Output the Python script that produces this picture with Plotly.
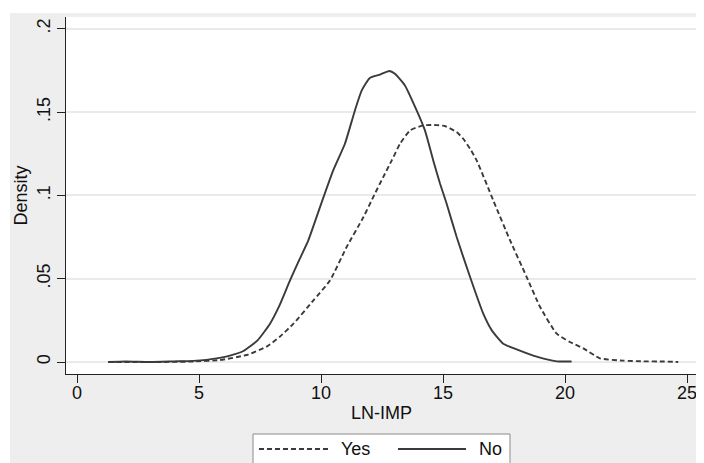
import plotly.graph_objects as go

# ---- data ----
no_x = [1.28, 2.0, 3.0, 4.0, 4.77, 5.3, 5.72, 6.3, 6.82, 7.4, 7.91, 8.3, 8.73, 9.1, 9.48,
        9.96, 10.5, 10.98, 11.39, 11.67, 12.0, 12.42, 12.8, 13.03, 13.44, 13.92, 14.26,
        14.6, 14.88, 15.15, 15.56, 16.11, 16.65, 17.0, 17.47, 18.02, 18.84, 19.66, 20.27]
no_y = [0.0, 0.0003, 0.0, 0.0004, 0.0007, 0.0013, 0.0022, 0.004, 0.0066, 0.013, 0.023,
        0.034, 0.049, 0.061, 0.073, 0.093, 0.115, 0.131, 0.151, 0.163, 0.1705, 0.1725,
        0.1747, 0.173, 0.166, 0.151, 0.139, 0.121, 0.107, 0.095, 0.075, 0.051, 0.029,
        0.019, 0.011, 0.0076, 0.0032, 0.0004, 0.0003]

yes_x = [1.28, 2.5, 3.5, 4.77, 5.86, 6.95, 7.77, 8.3, 8.87, 9.69, 10.37, 11.05, 11.74,
         12.14, 12.55, 12.9, 13.24, 13.65, 14.19, 14.74, 15.1, 15.56, 15.83, 16.11, 16.38,
         17.06, 17.75, 18.43, 18.98, 19.66, 20.2, 20.75, 21.43, 22.39, 23.2, 24.03, 24.64]
yes_y = [0.0, 0.0, 0.0, 0.0003, 0.0012, 0.0042, 0.0092, 0.015, 0.023, 0.037, 0.049, 0.069,
         0.087, 0.099, 0.111, 0.121, 0.131, 0.139, 0.142, 0.1422, 0.1415, 0.138, 0.134,
         0.128, 0.121, 0.097, 0.073, 0.051, 0.033, 0.017, 0.012, 0.0082, 0.0022, 0.0008,
         0.0004, 0.0003, 0.0]

x_ticks = [0, 5, 10, 15, 20, 25]
y_ticks = [0, 0.05, 0.1, 0.15, 0.2]
y_tick_text = ["0", ".05", ".1", ".15", ".2"]
series_names = ["Yes", "No"]
x_title = "LN-IMP"
y_title = "Density"

# ---- layout geometry (window pixels; page body has an 8px margin) ----
OFF = 8
W, H = 704 - OFF, 463 - OFF
L, R, T, B = 66, 697, 17, 374          # plot area in window pixels
PW, PH = R - L, B - T


def px(xp):
    return (xp - L) / PW


def py(yp):
    return (B - yp) / PH


FONT = "Liberation Sans, Arial, Helvetica, sans-serif"
LINE = "#3a3a3a"
TXT = "#111111"
GRAY = "#EEEEEE"

fig = go.Figure()
fig.add_trace(go.Scatter(x=yes_x, y=yes_y, mode="lines", name=series_names[0],
                         line=dict(color=LINE, width=1.9, dash="5px,3px",
                                   shape="spline", smoothing=0.5),
                         showlegend=False))
fig.add_trace(go.Scatter(x=no_x, y=no_y, mode="lines", name=series_names[1],
                         line=dict(color=LINE, width=1.9, shape="spline", smoothing=0.5),
                         showlegend=False))

shapes = [
    # white strips outside the gray graph region (left and top)
    dict(type="rect", xref="paper", yref="paper", x0=px(0), x1=px(10), y0=py(480), y1=py(0),
         fillcolor="white", line=dict(width=0), layer="above"),
    dict(type="rect", xref="paper", yref="paper", x0=px(0), x1=px(710), y0=py(13), y1=py(0),
         fillcolor="white", line=dict(width=0), layer="above"),
    # legend box
    dict(type="rect", xref="paper", yref="paper", x0=px(253), x1=px(510), y0=py(480), y1=py(434),
         fillcolor="white", line=dict(color="#8a8a8a", width=1), layer="above"),
    # legend samples
    dict(type="line", xref="paper", yref="paper", x0=px(259), x1=px(330), y0=py(449), y1=py(449),
         line=dict(color=LINE, width=1.9, dash="5px,3px"), layer="above"),
    dict(type="line", xref="paper", yref="paper", x0=px(398), x1=px(466), y0=py(449), y1=py(449),
         line=dict(color=LINE, width=1.9), layer="above"),
]

annotations = [
    dict(text=series_names[0], xref="paper", yref="paper", x=px(339), y=py(449),
         xanchor="left", yanchor="middle", showarrow=False,
         font=dict(family=FONT, size=18, color=TXT)),
    dict(text=series_names[1], xref="paper", yref="paper", x=px(477), y=py(449),
         xanchor="left", yanchor="middle", showarrow=False,
         font=dict(family=FONT, size=18, color=TXT)),
]

fig.update_layout(
    width=W, height=H,
    margin=dict(l=L - OFF, r=W - (R - OFF), t=T - OFF, b=H - (B - OFF), pad=0, autoexpand=False),
    paper_bgcolor=GRAY,
    plot_bgcolor="white",
    font=dict(family=FONT, size=18, color=TXT),
    shapes=shapes,
    annotations=annotations,
    showlegend=False,
)

fig.update_xaxes(
    automargin=False,
    range=[(L - 77) / 24.4, (R - 77) / 24.4],
    tickvals=x_ticks, ticks="outside", ticklen=8, tickcolor="#222", tickwidth=1,
    ticklabelstandoff=-6,
    showline=True, linecolor="#222", linewidth=1, mirror=False,
    showgrid=False, zeroline=False,
    tickfont=dict(family=FONT, size=18, color=TXT),
    title=dict(text=x_title, font=dict(family=FONT, size=18, color=TXT), standoff=4),
)
fig.update_yaxes(
    automargin=False,
    range=[(362 - B) / 1666, (362 - T) / 1666],
    tickvals=y_ticks, ticktext=y_tick_text, tickangle=-90,
    ticks="outside", ticklen=8, tickcolor="#222", tickwidth=1,
    showline=True, linecolor="#222", linewidth=1, mirror=False,
    showgrid=True, gridcolor="#EAEAEA", gridwidth=1.5, zeroline=False,
    tickfont=dict(family=FONT, size=18, color=TXT),
    title=dict(text=y_title, font=dict(family=FONT, size=18, color=TXT), standoff=1),
)

fig.write_html("out.html")
